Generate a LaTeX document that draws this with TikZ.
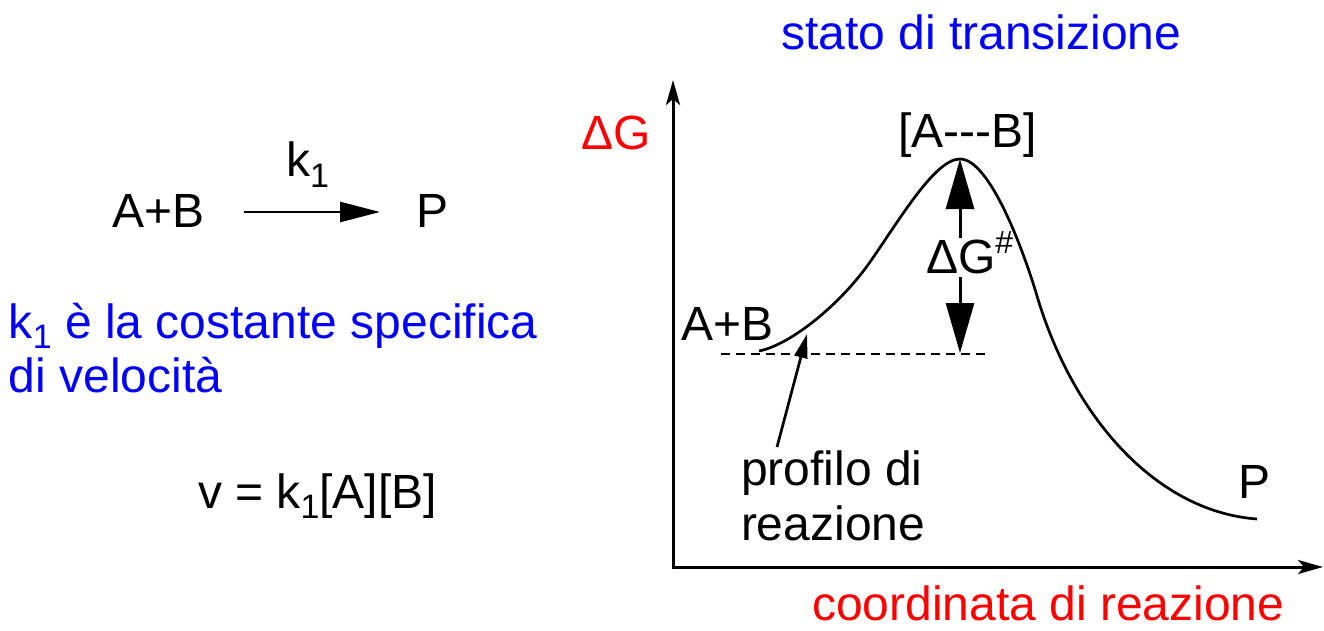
\documentclass[tikz,border=0pt]{standalone}
\usepackage{fontspec}
\setmainfont{Liberation Sans}
\usetikzlibrary{arrows.meta}
\definecolor{tblue}{RGB}{0,0,255}
\definecolor{tred}{RGB}{255,0,0}
\tikzset{
  txt/.style={inner sep=0pt, outer sep=0pt, anchor=base west, font=\fontsize{48}{58}\selectfont},
  axis/.style={line width=3pt, -{Stealth[length=25pt, width=14pt, inset=6pt]}},
  curve/.style={line width=2.7pt},
  dashline/.style={line width=2.7pt, dash pattern=on 8.5pt off 6.5pt},
  bigarrow/.style={line width=3pt, -{Triangle[length=50pt, width=28pt]}},
  midarrow/.style={line width=2.7pt, -{Triangle[length=40pt, width=20pt]}},
  smallarrow/.style={line width=2.7pt, -{Triangle[length=24pt, width=13pt]}},
}
\newcommand{\subone}{\raisebox{-10pt}{\fontsize{34}{34}\selectfont 1}}
\begin{document}
\begin{tikzpicture}[x=1pt, y=-1pt]
\useasboundingbox (0,0) rectangle (1324,631);

% left side
\node[txt] (lab) at (112,227) {A+B};
\node[txt] (lp) at (416,227) {P};
\node[txt] (lk) at (286,177) {k\subone};
\coordinate (la1) at (244,212);
\coordinate (la2) at (380,212);
\draw[midarrow] (la1) -- (la2);
\node[txt, text=tblue] (def1) at (9,338) {k\subone{} è la costante specifica};
\node[txt, text=tblue] (def2) at (9,392) {di velocità};
\node[txt] (rate) at (198,508) {v = k\subone[A][B]};

% axes
\coordinate (orig) at (673,569);
\coordinate (ytip) at (673,80);
\coordinate (xorig) at (673,567);
\coordinate (xtip) at (1323,567);
\draw[axis] (orig) -- (ytip);
\draw[axis] (xorig) -- (xtip);
\node[txt, text=tred] (dG) at (581,150) {ΔG};
\node[txt, text=tred] (xlab) at (812,620) {coordinata di reazione};
\node[txt, text=tblue] (ts) at (781,50) {stato di transizione};
\node[txt] (tsl) at (898,148) {[A-{}-{}-B]};

% energy profile
\coordinate (start) at (759,351);
\coordinate (infl) at (870,262);
\coordinate (peak) at (960,159);
\coordinate (infr) at (1037,296);
\coordinate (end) at (1257,519);
\coordinate (cp) at (807,334);
\draw[curve] (start) .. controls (790,345) and (840,305) .. (infl)
  .. controls (900,219) and (935,159) .. (peak)
  .. controls (990,159) and (1024,252) .. (infr)
  .. controls (1075,423) and (1160,512) .. (end);

% dashed reference level
\coordinate (d1) at (721,354);
\coordinate (d2) at (986,354);
\draw[dashline] (d1) -- (d2);

% activation energy
\coordinate (up0) at (960,238);
\coordinate (dn0) at (960,277);
\coordinate (dnt) at (960,353);
\draw[bigarrow] (up0) -- (peak);
\draw[bigarrow] (dn0) -- (dnt);
\node[txt] (dGs) at (926,273) {ΔG\raisebox{20pt}{\fontsize{32}{32}\selectfont\#}};

% labels on profile
\node[txt] (rab) at (681,340) {A+B};
\node[txt] (rp) at (1238,498) {P};
\node[txt] (prof1) at (741,485) {profilo di};
\node[txt] (prof2) at (741,540) {reazione};
\coordinate (pa) at (777,447);
\draw[smallarrow] (pa) -- (cp);
\end{tikzpicture}
\end{document}
